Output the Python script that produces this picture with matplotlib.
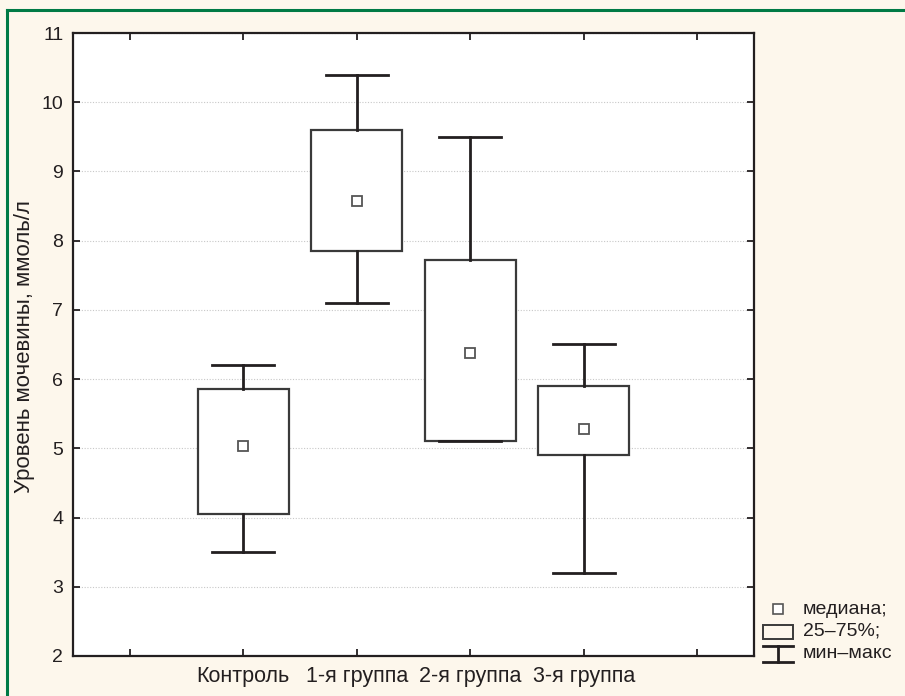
import matplotlib
matplotlib.use("Agg")
import matplotlib.pyplot as plt
from matplotlib.lines import Line2D
from matplotlib.patches import Rectangle

plt.rcParams['font.family'] = ['Liberation Sans', 'DejaVu Sans']

# data (mmol/l)
groups = ['Контроль', '1-я группа', '2-я группа', '3-я группа']
mins = [3.5, 7.1, 5.1, 3.2]
q1s = [4.05, 7.85, 5.1, 4.9]
medians = [5.03, 8.58, 6.38, 5.28]
q3s = [5.85, 9.6, 7.72, 5.9]
maxs = [6.2, 10.4, 9.5, 6.5]

W, H = 905, 696
BG = '#fdf7ec'
INK = '#231f20'


def px(x, y):
    """pixel position in the reference -> figure fraction"""
    return x / W, 1 - y / H


fig = plt.figure(figsize=(W / 100, H / 100), dpi=100, facecolor=BG)
ax = fig.add_axes([73 / W, 1 - 656 / H, (754 - 73) / W, (656 - 33) / H])
ax.set_facecolor('white')

positions = list(range(1, len(groups) + 1))
stats = []
for g, lo, a, m, b, hi in zip(groups, mins, q1s, medians, q3s, maxs):
    stats.append(dict(label=g, whislo=lo, q1=a, med=m, q3=b, whishi=hi, fliers=[]))

ax.bxp(stats, positions=positions, widths=0.8, capwidths=0.55,
       patch_artist=True, showfliers=False,
       boxprops=dict(facecolor='white', edgecolor='#3a3a3a', linewidth=1.6),
       whiskerprops=dict(color=INK, linewidth=2.0),
       capprops=dict(color=INK, linewidth=2.0),
       medianprops=dict(linewidth=0), zorder=3)
ax.plot(positions, medians, linestyle='none', marker='s', markersize=7.5,
        markerfacecolor='white', markeredgecolor='#555555', markeredgewidth=1.3,
        zorder=4)

ax.set_xlim(-0.5, 5.5)
ax.set_ylim(2, 11)
ax.set_xticks(range(0, 6))
ax.set_xticklabels([''] + groups + [''])
ax.set_yticks(range(2, 12))

ax.yaxis.grid(True, color='#c8c8c8', linestyle=(0, (1, 1.5)), linewidth=0.8)
ax.set_axisbelow(True)
ax.tick_params(direction='in', top=True, right=True, length=5, width=1.3,
               color=INK, labelcolor=INK)
ax.tick_params(axis='y', labelsize=14, pad=7)
ax.tick_params(axis='x', labelsize=15.5, pad=7)
for s in ax.spines.values():
    s.set_linewidth(1.6)
    s.set_color(INK)

fig.text(*px(25, 347), 'Уровень мочевины, ммоль/л', rotation=90,
         ha='center', va='center', fontsize=16, color=INK)

# legend drawn by hand to match the reference layout
tf = fig.transFigure
fig.add_artist(Line2D(*zip(px(778, 609)), marker='s', markersize=7.5,
                      markerfacecolor='white', markeredgecolor='#555555',
                      markeredgewidth=1.2, linestyle='none', transform=tf))
x0, y0 = px(763, 639)
x1, y1 = px(793, 625)
fig.add_artist(Rectangle((x0, y0), x1 - x0, y1 - y0, facecolor='none',
                         edgecolor='#3a3a3a', linewidth=1.4, transform=tf))
for (xa, ya), (xb, yb) in [(px(763, 646), px(793, 646)),
                           (px(763, 662), px(793, 662)),
                           (px(778, 646), px(778, 662))]:
    fig.add_artist(Line2D([xa, xb], [ya, yb], color=INK, linewidth=2.0,
                          transform=tf))
for label, y in [('медиана;', 609), ('25–75%;', 631), ('мин–макс', 654)]:
    fig.text(*px(803, y), label, ha='left', va='center', fontsize=14, color=INK)

# green frame on top and left
fig.add_artist(Line2D([px(7, 10)[0], 1], [px(7, 10)[1]] * 2,
                      color='#007a45', linewidth=2.2, transform=tf))
fig.add_artist(Line2D([px(7, 10)[0]] * 2, [px(7, 10)[1], 0],
                      color='#007a45', linewidth=2.2, transform=tf))

fig.savefig('out.png', dpi=100, facecolor=BG)
